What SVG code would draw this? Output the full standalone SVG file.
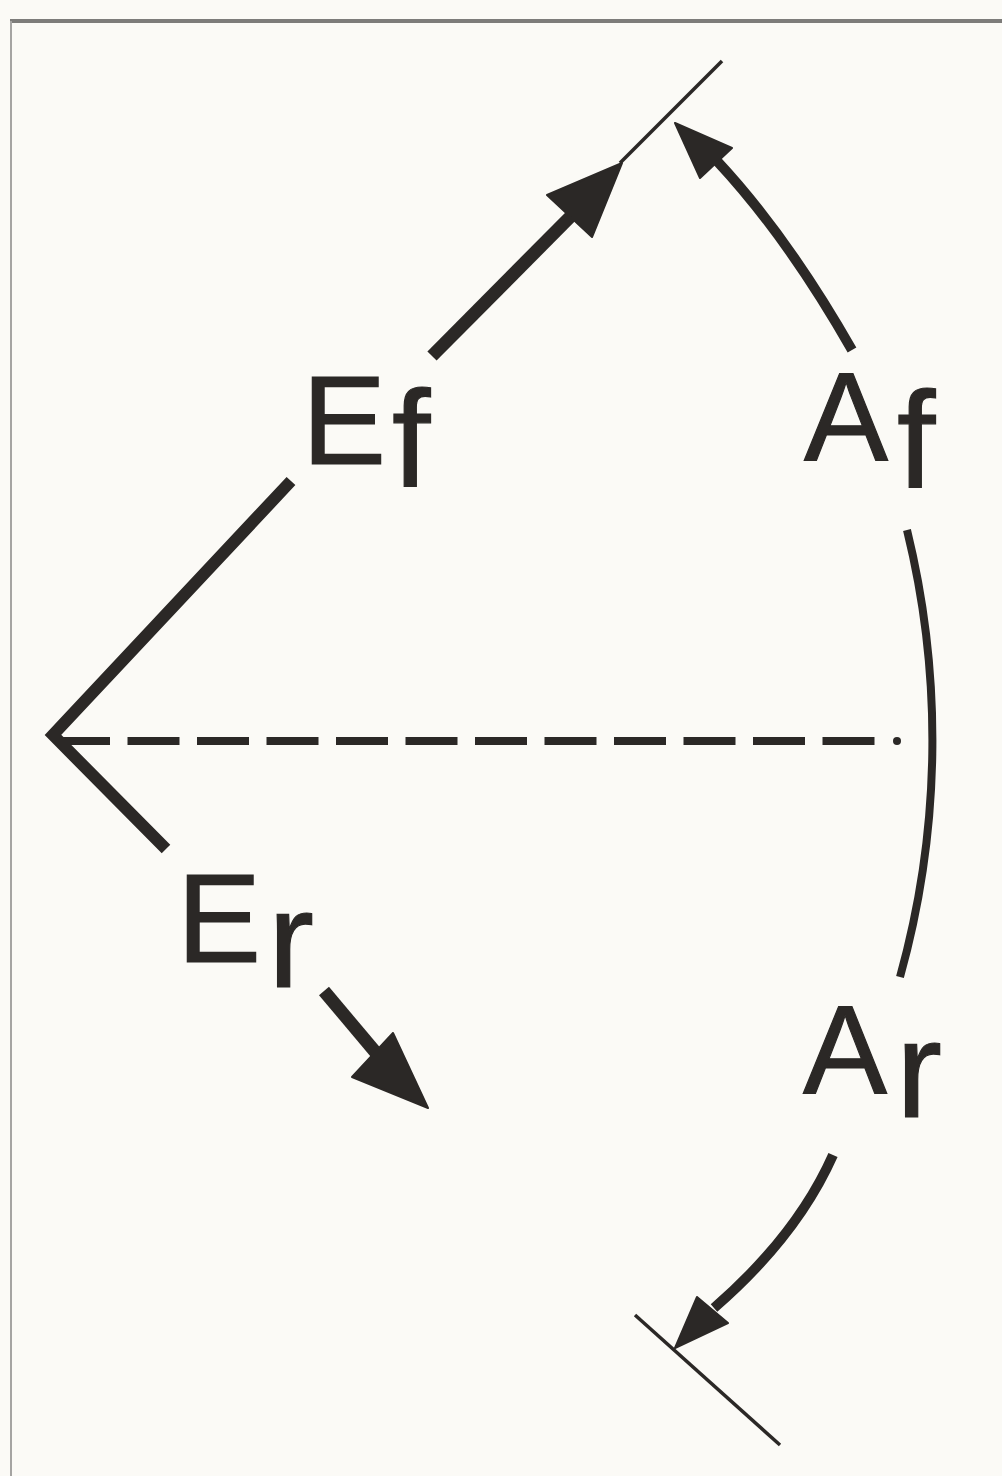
<svg xmlns="http://www.w3.org/2000/svg" width="1002" height="1476" viewBox="0 0 1002 1476">
  <style>
    .ink { stroke: #2b2826; fill: none; }
    .head { fill: #2b2826; stroke: #2b2826; stroke-width: 2; stroke-linejoin: round; }
    .lbl { font-family: "Liberation Sans", "DejaVu Sans", sans-serif; fill: #2b2826; stroke: #2b2826; stroke-width: 1.2; }
    .cap { font-size: 126px; }
    .sub { font-size: 138px; }
  </style>
  <rect x="0" y="0" width="1002" height="1476" fill="#fbfaf6"/>
  <line x1="10" y1="21" x2="1002" y2="21" stroke="#7d7c7a" stroke-width="4"/>
  <line x1="11" y1="21" x2="11" y2="1476" stroke="#a5a4a2" stroke-width="2"/>

  <g id="connectors">
    <!-- chevron -->
    <polyline class="ink" points="291,481 53,735 166,849" stroke-width="12" stroke-linejoin="miter"/>
    <!-- dashed axis -->
    <line class="ink" x1="58" y1="741" x2="876" y2="741" stroke-width="8" stroke-dasharray="52 17.5"/>
    <circle cx="897" cy="741" r="4" fill="#2b2826"/>
    <!-- right arc -->
    <path class="ink" d="M907,530 A882,882 0 0,1 900,977" stroke-width="8"/>
    <!-- Ef arrow -->
    <line class="ink" x1="432" y1="356" x2="574" y2="213" stroke-width="13"/>
    <polygon class="head" points="622,163 547,195 592,237"/>
    <line class="ink" x1="722" y1="61" x2="620" y2="163" stroke-width="3.5"/>
    <!-- Af arrow -->
    <path class="ink" d="M852,350 Q787,236 717,161" stroke-width="10"/>
    <polygon class="head" points="675,123 732,148 700,178"/>
    <!-- Er arrow -->
    <line class="ink" x1="324" y1="991" x2="377" y2="1054" stroke-width="13"/>
    <polygon class="head" points="428,1108 393,1033 352,1077"/>
    <!-- Ar arrow -->
    <path class="ink" d="M833,1155 Q797,1236 714,1308" stroke-width="10"/>
    <polygon class="head" points="675,1348 697,1297 728,1323"/>
    <line class="ink" x1="635" y1="1315" x2="780" y2="1445" stroke-width="3.5"/>
  </g>

  <g id="node-Ef">
    <text class="lbl"><tspan class="cap" x="302" y="464">E</tspan><tspan class="sub" x="392" y="487">f</tspan></text>
  </g>
  <g id="node-Af">
    <text class="lbl"><tspan class="cap" x="804" y="460">A</tspan><tspan class="sub" x="897" y="488">f</tspan></text>
  </g>
  <g id="node-Er">
    <text class="lbl"><tspan class="cap" x="177" y="962">E</tspan><tspan class="sub" x="268" y="987">r</tspan></text>
  </g>
  <g id="node-Ar">
    <text class="lbl"><tspan class="cap" x="803" y="1093">A</tspan><tspan class="sub" x="896" y="1117">r</tspan></text>
  </g>
</svg>
